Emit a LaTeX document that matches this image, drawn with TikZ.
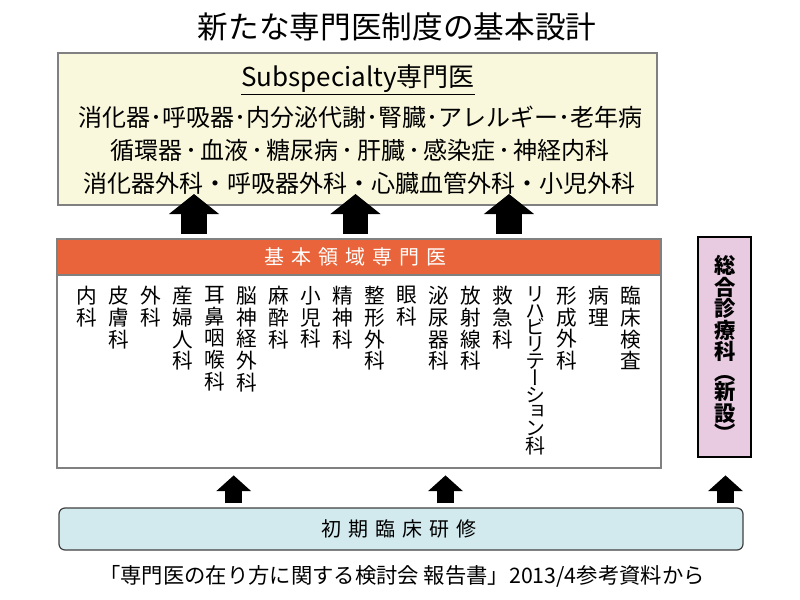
\documentclass[tikz,border=0pt]{standalone}
\usepackage{fontspec}
\setmainfont{Noto Sans CJK JP}
\newfontfamily\tatefont[RawFeature=+vert]{Noto Sans CJK JP}
\newfontfamily\widefont[LetterSpace=35]{Noto Sans CJK JP}
\usetikzlibrary{arrows.meta}

\definecolor{subfill}{RGB}{250,248,220}
\definecolor{kihonorange}{RGB}{233,100,58}
\definecolor{shokifill}{RGB}{210,234,238}
\definecolor{sogofill}{RGB}{232,202,225}

\newcommand\wdot{\kern2.4pt･\kern2.4pt}

\tikzset{
  subbox/.style={draw=black!50, line width=1.5pt, fill=subfill, inner sep=0pt},
  kihonbox/.style={draw=black!50, line width=1.2pt, fill=white, inner sep=0pt},
  headbar/.style={draw=black!50, line width=1.2pt, fill=kihonorange, text=white, inner sep=0pt,
    font=\widefont\fontsize{15}{18}\selectfont},
  sogobox/.style={draw=black, line width=2pt, fill=sogofill, inner sep=0pt},
  shokibox/.style={draw=black!75, line width=0.9pt, fill=shokifill, rounded corners=4.5pt, inner sep=0pt,
    font=\widefont\fontsize{15}{18}\selectfont},
  subline/.style={inner sep=0pt, font=\fontsize{18}{21}\selectfont},
  dept/.style={anchor=north, align=center, inner sep=0pt, font=\tatefont\fontsize{15.5}{16.3}\selectfont},
  bigup/.style={line width=19.3pt, -{Triangle[length=15pt, width=36.75pt]}},
  smallup/.style={line width=12.5pt, -{Triangle[length=11.8pt, width=25.5pt]}},
}

\begin{document}
\begin{tikzpicture}[x=0.75pt, y=-0.75pt]
  \useasboundingbox (0,0) rectangle (800,600);

  % title
  \node[inner sep=0pt, font=\fontsize{23}{27}\selectfont] (title) at (397,27) {新たな専門医制度の基本設計};

  % subspecialty
  \node[subbox, minimum width=599*0.75pt, minimum height=152*0.75pt] (sub) at (357.5,129) {};
  \node[subline, font=\fontsize{19.5}{22}\selectfont] (subhead) at (358,80) {\underline{Subspecialty専門医}};
  \node[subline] (subl1) at (360,117) {消化器･呼吸器･内分泌代謝･腎臓･アレルギー･老年病};
  \node[subline] (subl2) at (360,150) {循環器\wdot 血液\wdot 糖尿病\wdot 肝臓\wdot 感染症\wdot 神経内科};
  \node[subline] (subl3) at (359,183) {消化器外科・呼吸器外科・心臓血管外科・小児外科};

  % basic fields
  \node[kihonbox, minimum width=604*0.75pt, minimum height=229*0.75pt] (kihon) at (359,353.5) {};
  \node[headbar, minimum width=604*0.75pt, minimum height=36*0.75pt] (head) at (359,257) {};
  \node[headbar, draw=none, fill=none] (headtext) at (355.5,257) {基本領域専門医};
  \foreach \x/\t in {87/内\\科, 119/皮\\膚\\科, 151/外\\科, 183/産\\婦\\人\\科,
      215/耳\\鼻\\咽\\喉\\科, 247/脳\\神\\経\\外\\科, 279/麻\\酔\\科, 311/小\\児\\科,
      343/精\\神\\科, 375/整\\形\\外\\科, 407/眼\\科, 439/泌\\尿\\器\\科,
      471/放\\射\\線\\科, 503/救\\急\\科, 567/形\\成\\外\\科, 599/病\\理, 631/臨\\床\\検\\査}
    \node[dept] (d\x) at (\x,286) {\t};
  \node[dept, font=\tatefont\fontsize{15}{12.6}\selectfont] (reha) at (535,286)
    {リ\\ハ\\ビ\\リ\\テ\\ー\\シ\\ョ\\ン\\科};

  % general medicine
  \node[sogobox, minimum width=53*0.75pt, minimum height=220*0.75pt] (sogo) at (724.5,347) {};
  \node[dept, font=\tatefont\bfseries\fontsize{16}{16.2}\selectfont] (sogotext) at (724.7,255)
    {総\\合\\診\\療\\科\\[-1pt]（\\[-1.5pt]新\\設\\[-1.5pt]）};

  % initial training
  \node[shokibox, minimum width=684*0.75pt, minimum height=42*0.75pt] (shoki) at (401,529) {};
  \node[shokibox, draw=none, fill=none] (shokitext) at (398.5,529) {初期臨床研修};

  % arrows
  \coordinate (u1) at (194,0);
  \coordinate (u2) at (355.5,0);
  \coordinate (u3) at (509,0);
  \coordinate (l1) at (233.7,0);
  \coordinate (l2) at (445.5,0);
  \coordinate (l3) at (725.5,0);
  \foreach \c in {u1,u2,u3}
    \draw[bigup] (\c |- kihon.north) ++(0,-4) -- (\c |- sub.south) ++(0,0) -- ++(0,-12);
  \foreach \c in {l1,l2,l3}
    \draw[smallup] (\c |- shoki.north) ++(0,-4) -- ++(0,-28);

  % source
  \node[inner sep=0pt, font=\fontsize{16}{19}\selectfont] (source) at (402,576)
    {「専門医の在り方に関する検討会 報告書」2013/4参考資料から};
\end{tikzpicture}
\end{document}
